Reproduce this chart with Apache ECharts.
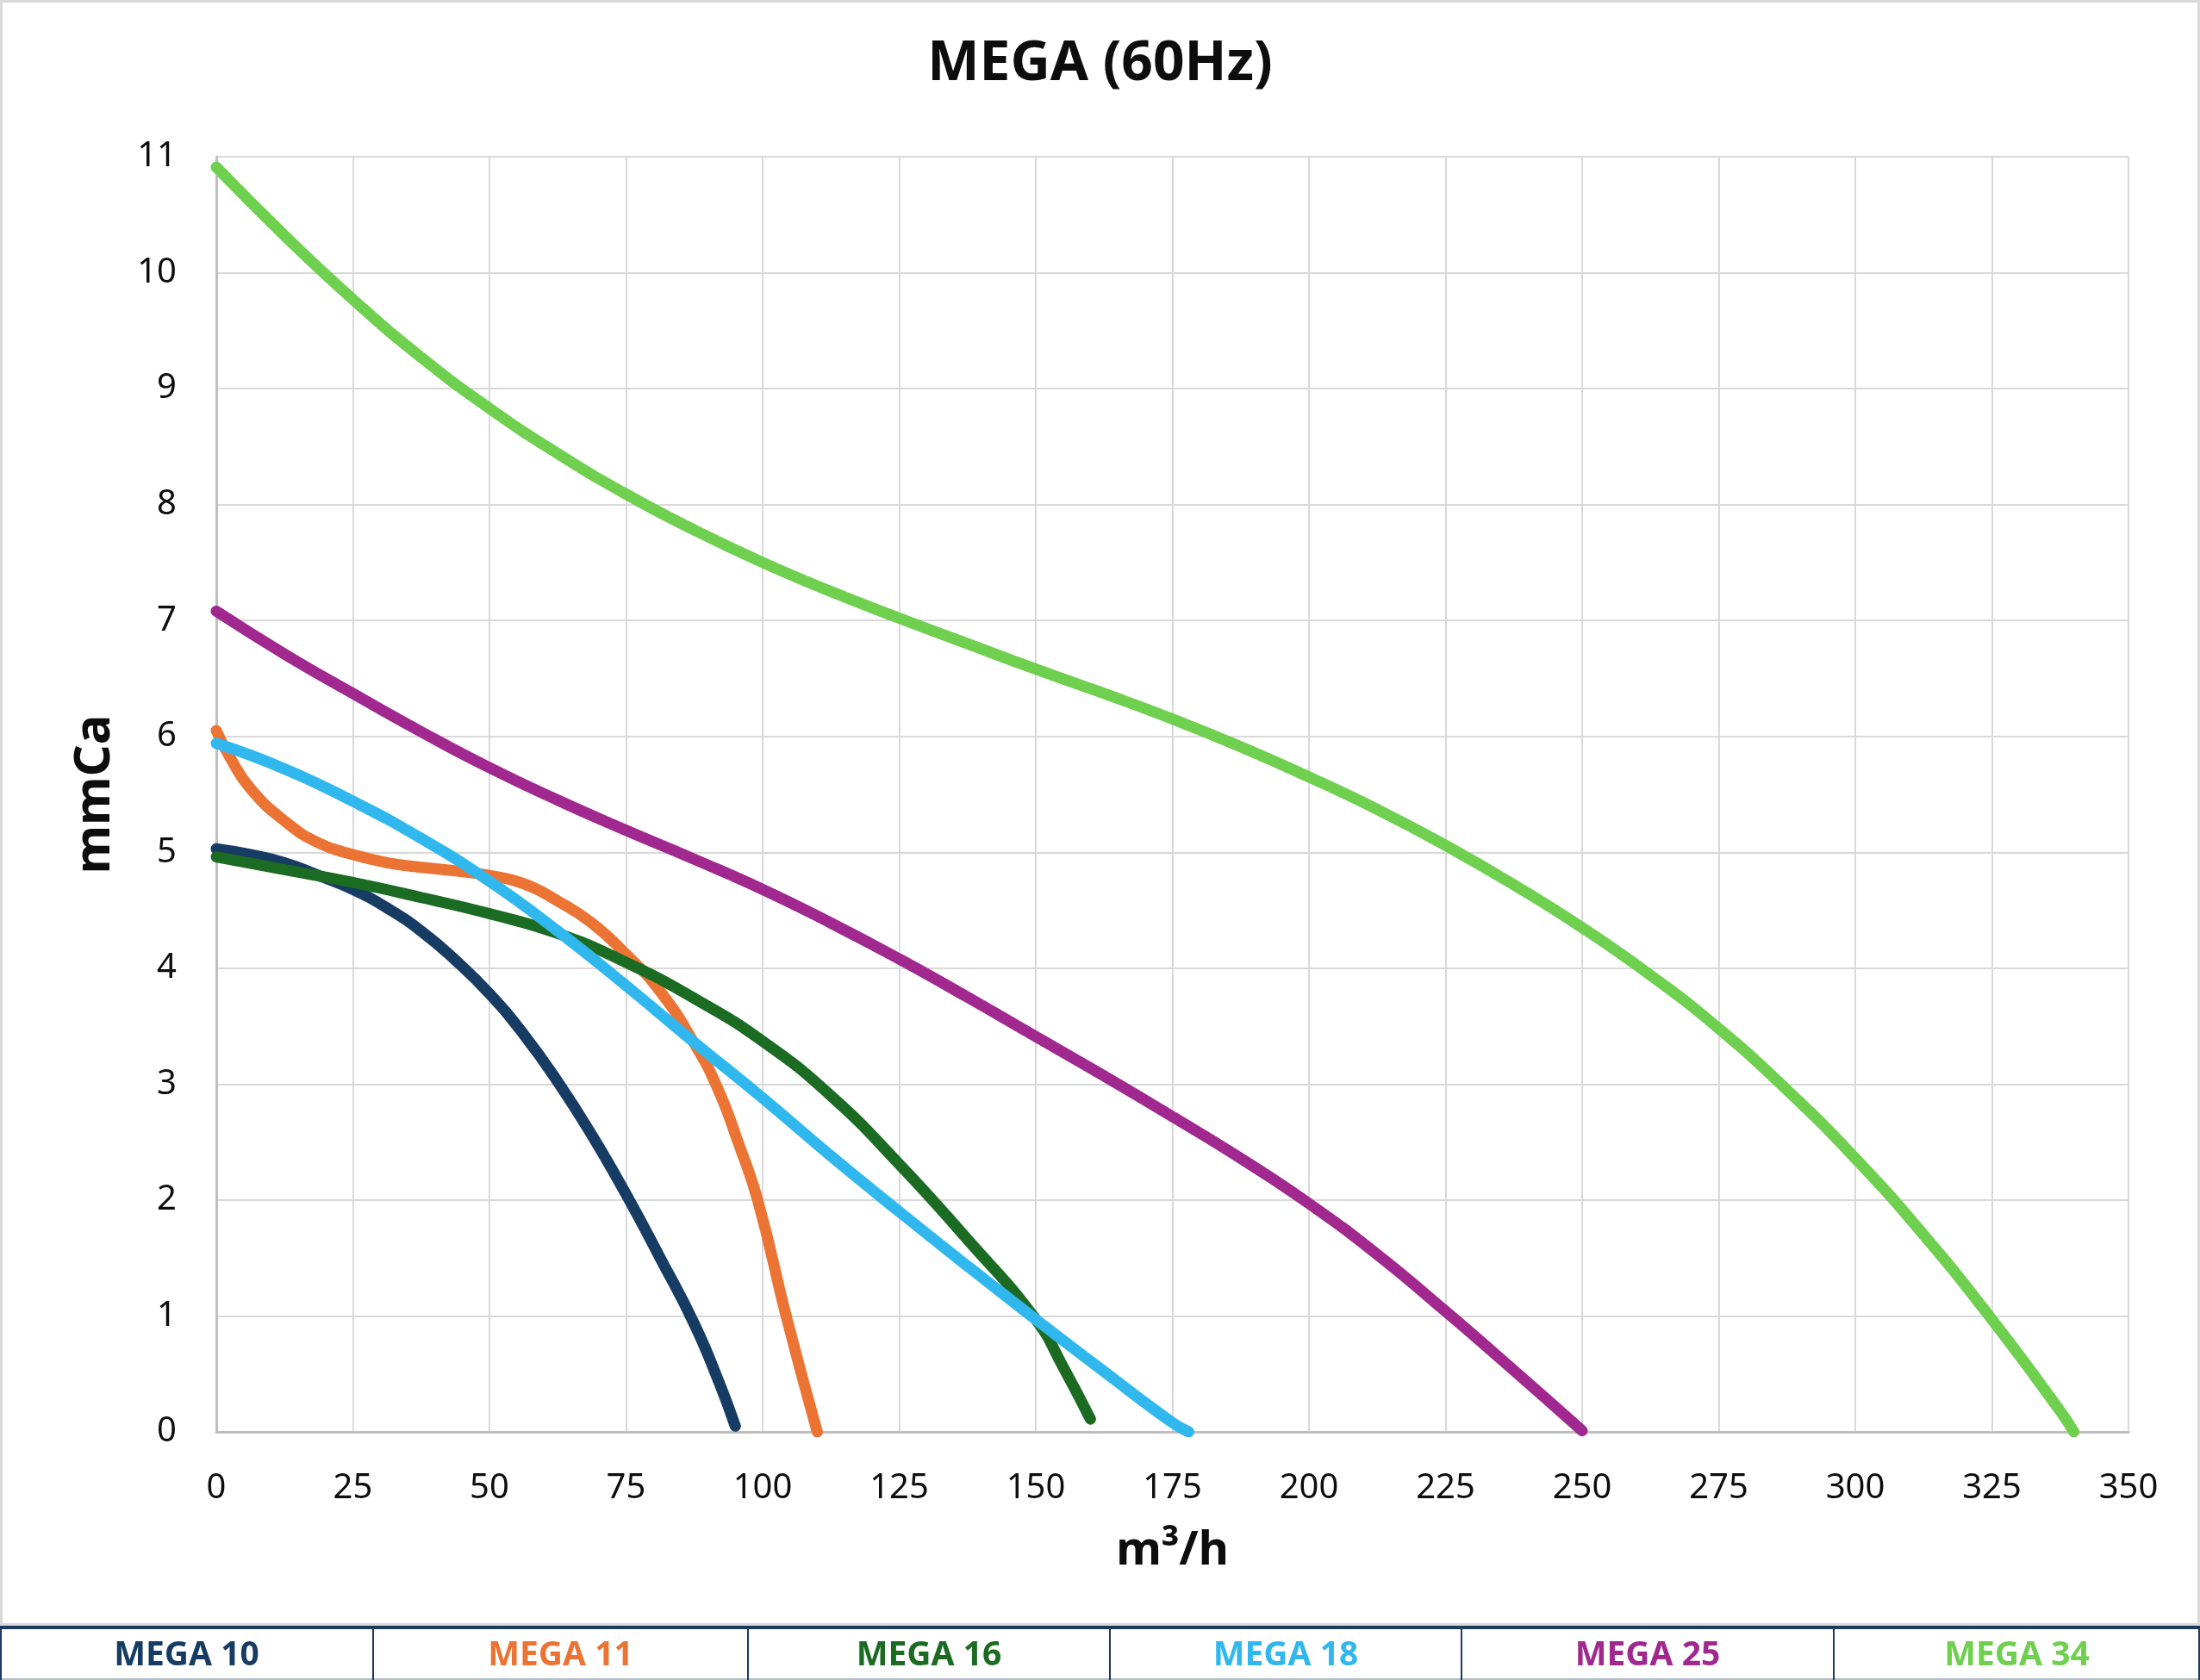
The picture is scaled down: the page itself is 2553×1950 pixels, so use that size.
<!DOCTYPE html>
<html>
<head>
<meta charset="utf-8">
<title>MEGA (60Hz)</title>
<script src="https://cdn.jsdelivr.net/npm/echarts@6/dist/echarts.min.js"></script>
<style>
  html, body { margin: 0; padding: 0; background: #fff; }
  #chart { width: 2553px; height: 1950px; }
</style>
</head>
<body>
<div id="chart"></div>
<script>
// curve data (m3/h, mmCa)
var mega10Flow = [0, 6.25, 12.5, 18.75, 25, 31.25, 37.5, 43.75, 50, 56.25, 62.5, 68.75, 75, 81.25, 87.5, 92, 95];
var mega10Head = [5.03, 4.98, 4.91, 4.80, 4.68, 4.52, 4.32, 4.07, 3.78, 3.43, 3.02, 2.56, 2.05, 1.50, 0.93, 0.43, 0.05];

var mega11Flow = [0, 2.5, 6.25, 12.5, 18.75, 25, 31.25, 37.5, 43.75, 50, 56.25, 62.5, 68.75, 75, 81.25, 87.5, 91.7, 95.5, 99.2, 104.3, 110];
var mega11Head = [6.05, 5.82, 5.55, 5.27, 5.08, 4.98, 4.91, 4.87, 4.84, 4.80, 4.73, 4.58, 4.39, 4.12, 3.80, 3.35, 2.97, 2.50, 1.98, 1.0, 0];

var mega16Flow = [0, 12.5, 25, 37.5, 50, 62.5, 75, 87.5, 100, 112.5, 125, 137.5, 150, 155, 160];
var mega16Head = [4.96, 4.85, 4.74, 4.61, 4.47, 4.30, 4.05, 3.74, 3.37, 2.90, 2.31, 1.66, 0.97, 0.56, 0.11];

var mega18Flow = [0, 12.5, 25, 37.5, 50, 62.5, 75, 87.5, 100, 112.5, 125, 137.5, 150, 162.5, 175, 178];
var mega18Head = [5.94, 5.72, 5.44, 5.12, 4.75, 4.32, 3.85, 3.36, 2.88, 2.38, 1.90, 1.43, 0.97, 0.52, 0.08, 0];

var mega25Flow = [0, 12.5, 25, 37.5, 50, 62.5, 75, 87.5, 100, 112.5, 125, 137.5, 150, 162.5, 175, 187.5, 200, 212.5, 225, 237.5, 250];
var mega25Head = [7.08, 6.71, 6.37, 6.04, 5.73, 5.45, 5.19, 4.94, 4.68, 4.39, 4.08, 3.75, 3.41, 3.07, 2.72, 2.36, 1.97, 1.53, 1.04, 0.53, 0.01];

var mega34Flow = [0, 12.5, 25, 37.5, 50, 62.5, 75, 87.5, 100, 112.5, 125, 137.5, 150, 162.5, 175, 187.5, 200, 212.5, 225, 237.5, 250, 262.5, 275, 287.5, 300, 312.5, 325, 337.5, 340];
var mega34Head = [10.91, 10.32, 9.77, 9.27, 8.83, 8.44, 8.09, 7.78, 7.50, 7.25, 7.02, 6.80, 6.58, 6.37, 6.15, 5.91, 5.65, 5.37, 5.06, 4.72, 4.35, 3.94, 3.48, 2.95, 2.36, 1.70, 0.97, 0.18, 0];

var seriesNames = ['MEGA 10', 'MEGA 11', 'MEGA 16', 'MEGA 18', 'MEGA 25', 'MEGA 34'];
var seriesColors = ['#173c64', '#eb7434', '#1b6b23', '#30b8ee', '#a0288f', '#6fcf4e'];
var flows = [mega10Flow, mega11Flow, mega16Flow, mega18Flow, mega25Flow, mega34Flow];
var heads = [mega10Head, mega11Head, mega16Head, mega18Head, mega25Head, mega34Head];

var FONT = '"Noto Sans", sans-serif';

function pairs(xs, ys) {
    var out = [];
    for (var i = 0; i < xs.length; i++) out.push([xs[i], ys[i]]);
    return out;
}

var series = [];
for (var i = 0; i < seriesNames.length; i++) {
    series.push({
        name: seriesNames[i],
        type: 'line',
        smooth: 0.5,
        showSymbol: false,
        symbol: 'none',
        data: pairs(flows[i], heads[i]),
        lineStyle: { color: seriesColors[i], width: 13, cap: 'round', join: 'round' },
        itemStyle: { color: seriesColors[i] },
        z: 3
    });
}

// legend table along the bottom
var cellEdges = [0, 433, 868, 1288, 1696, 2128, 2553];
var tableTop = 1889, tableBottom = 1950;
var graphics = [
    { type: 'rect', shape: { x: 1.5, y: 1.5, width: 2550, height: 1884 },
      style: { fill: 'none', stroke: '#d9d9d9', lineWidth: 3 }, z: 0 },
    { type: 'line', shape: { x1: 0, y1: tableTop, x2: 2553, y2: tableTop },
      style: { stroke: '#1f3a60', lineWidth: 4 }, z: 5 },
    { type: 'line', shape: { x1: 0, y1: tableBottom - 1, x2: 2553, y2: tableBottom - 1 },
      style: { stroke: '#b4bcc6', lineWidth: 2 }, z: 5 },
    { type: 'line', shape: { x1: 1, y1: tableTop, x2: 1, y2: tableBottom },
      style: { stroke: '#1f3a60', lineWidth: 2 }, z: 5 },
    { type: 'line', shape: { x1: 2552, y1: tableTop, x2: 2552, y2: tableBottom },
      style: { stroke: '#1f3a60', lineWidth: 2 }, z: 5 }
];
for (var c = 0; c < seriesNames.length; c++) {
    if (c > 0) {
        graphics.push({ type: 'line',
            shape: { x1: cellEdges[c], y1: tableTop, x2: cellEdges[c], y2: tableBottom },
            style: { stroke: '#1f3a60', lineWidth: 2 }, z: 5 });
    }
    graphics.push({ type: 'text',
        x: (cellEdges[c] + cellEdges[c + 1]) / 2, y: (tableTop + tableBottom) / 2 + 2,
        style: { text: seriesNames[c], fill: seriesColors[c], font: 'bold 39px ' + FONT,
                 textAlign: 'center', textVerticalAlign: 'middle' }, z: 6 });
}

var chart = echarts.init(document.getElementById('chart'));
chart.setOption({
    backgroundColor: '#ffffff',
    animation: false,
    title: {
        text: 'MEGA (60Hz)',
        left: 'center',
        top: 38,
        textStyle: { fontFamily: FONT, fontSize: 64, fontWeight: 'bold', color: '#0d0d0d' }
    },
    grid: { left: 251, right: 83, top: 182, bottom: 288, containLabel: false },
    xAxis: {
        type: 'value',
        min: 0, max: 350, interval: 25,
        name: 'm³/h',
        nameLocation: 'middle',
        nameGap: 112,
        nameTextStyle: { fontFamily: FONT, fontSize: 54, fontWeight: 'bold', color: '#0d0d0d' },
        axisLine: { show: true, lineStyle: { color: '#bfbfbf', width: 3 } },
        axisTick: { show: false },
        axisLabel: { margin: 46, fontFamily: FONT, fontSize: 40, color: '#0d0d0d' },
        splitLine: { show: true, lineStyle: { color: '#d9d9d9', width: 2 } }
    },
    yAxis: {
        type: 'value',
        min: 0, max: 11, interval: 1,
        name: 'mmCa',
        nameLocation: 'middle',
        nameGap: 112,
        nameTextStyle: { fontFamily: FONT, fontSize: 58, fontWeight: 'bold', color: '#0d0d0d' },
        axisLine: { show: true, lineStyle: { color: '#bfbfbf', width: 3 } },
        axisTick: { show: false },
        axisLabel: { margin: 46, fontFamily: FONT, fontSize: 40, color: '#0d0d0d' },
        splitLine: { show: true, lineStyle: { color: '#d9d9d9', width: 2 } }
    },
    graphic: graphics,
    series: series
});
</script>
</body>
</html>
